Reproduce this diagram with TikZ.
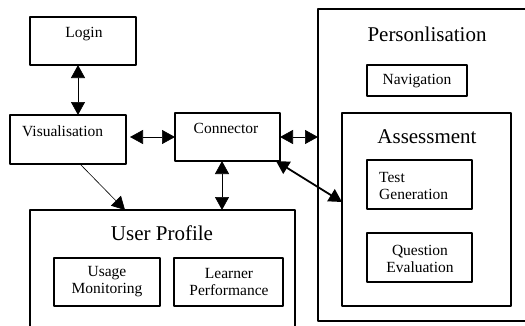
\documentclass[tikz,border=0pt]{standalone}
\usepackage{fontspec}
\setmainfont{Liberation Serif}
\usetikzlibrary{arrows.meta}

\begin{document}
\begin{tikzpicture}[x=1pt,y=-1pt,line join=round,>={Triangle[length=13pt,width=14pt]}]
        \tikzset{box/.style={draw,line width=1.9pt,inner sep=0pt,outer sep=0pt},
                 lbl/.style={font=\fontsize{15.5}{17}\selectfont,align=center,inner sep=0pt},
                 big/.style={font=\fontsize{21}{24}\selectfont,inner sep=0pt},
                 link/.style={<->,line width=0.6pt}}
        \useasboundingbox (0,0) rectangle (525,325);
        \clip (0,0) rectangle (525,325);
        % outer blocks
        \node[box,minimum width=106pt,minimum height=48pt] (login) at (83,41) {};
        \node[box,minimum width=116pt,minimum height=49pt] (vis) at (68,139.5) {};
        \node[box,minimum width=105pt,minimum height=48pt] (conn) at (227.5,137) {};
        \node[box,minimum width=222pt,minimum height=312pt] (pers) at (429,165) {};
        \node[box,minimum width=265pt,minimum height=130pt] (profile) at (162.5,275) {};
        % inner blocks
        \node[box,minimum width=100pt,minimum height=31pt] (nav) at (417,80.5) {};
        \node[box,minimum width=169pt,minimum height=193pt] (assess) at (426.5,209.5) {};
        \node[box,minimum width=105pt,minimum height=49pt] (testgen) at (419.5,184.5) {};
        \node[box,minimum width=105pt,minimum height=49pt] (queseval) at (419.5,257.5) {};
        \node[box,minimum width=106pt,minimum height=48pt] (usage) at (107,282) {};
        \node[box,minimum width=109pt,minimum height=48pt] (learner) at (228.5,282) {};
        % texts
        \node[lbl] (logintxt) at (84,34) {Login};
        \node[lbl,anchor=west] (vistxt) at (22,131) {Visualisation};
        \node[lbl] (conntxt) at (226,128) {Connector};
        \node[big] (perstxt) at (427,34) {Personlisation};
        \node[lbl] (navtxt) at (417,81) {Navigation};
        \node[big] (assesstxt) at (427,137) {Assessment};
        \node[lbl,anchor=west,align=left] (testgentxt) at (379,185.5) {Test\\Generation};
        \node[lbl] (quesevaltxt) at (420,258.5) {Question\\Evaluation};
        \node[big] (profiletxt) at (162,233) {User Profile};
        \node[lbl] (usagetxt) at (107,281.5) {Usage\\Monitoring};
        \node[lbl] (learnertxt) at (229,281.5) {Learner\\Performance};
        % connections
        \draw[link] ([xshift=-5pt]login.south) -- ([xshift=10pt]vis.north);
        \draw[link,shorten <=4pt] (vis.east |- conn.west) -- (conn.west);
        \draw[link] (conn.east) -- (conn.east -| pers.west);
        \draw[link] ([xshift=-5.5pt]conn.south) -- ([xshift=-5.5pt]conn.south |- profile.north);
        \draw[link,line width=1.8pt] ([xshift=-4pt]conn.south east) -- ([yshift=7.5pt]assess.west);
        \draw[->,line width=0.6pt] ([xshift=12pt]vis.south) -- ([xshift=-37.5pt]profile.north);
\end{tikzpicture}
\end{document}
